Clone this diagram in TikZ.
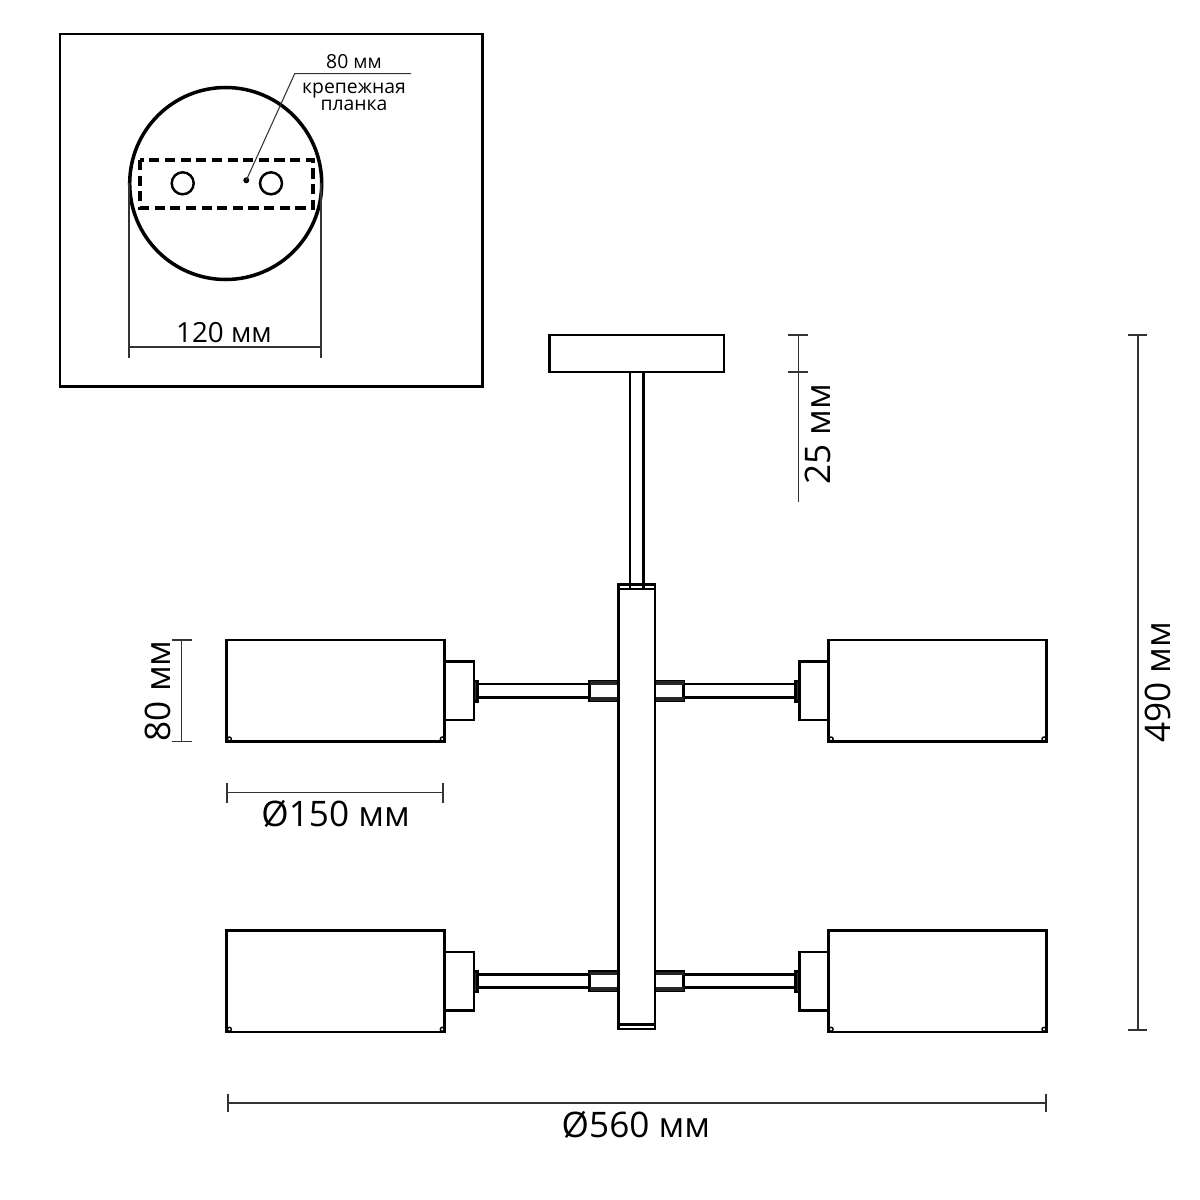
\documentclass[tikz,border=0pt]{standalone}
\usepackage{fontspec}
\setmainfont{Open Sans}
\tikzset{
  part/.style={draw=black,line width=0.7pt,fill=white},
  dimline/.style={draw=black!80,line width=0.3pt},
  bigtext/.style={inner sep=0pt,font=\fontsize{10}{12}\selectfont},
  midtext/.style={inner sep=0pt,font=\fontsize{7.9}{10}\selectfont},
  smalltext/.style={inner sep=0pt,font=\fontsize{5.5}{6}\selectfont},
}
\begin{document}
\begin{tikzpicture}[x=0.01cm,y=-0.01cm]
  \useasboundingbox (0,0) rectangle (1200,1200);
  % Inset
  \draw[line width=0.85pt] (60,34) rectangle (482,386);
  \draw[line width=1pt] (225.7,183.5) circle[radius=96];
  \draw[line width=1.1pt,dash pattern=on 2.9pt off 1.55pt] (140,160) rectangle (313,208);
  \foreach \x in {182.7,271}
    \draw[line width=0.7pt] (\x,183.3) circle[radius=11];
  % Leader
  \fill (246.3,180.3) coordinate (pin) circle[radius=3];
  \coordinate (elbow) at (294.7,73.7);
  \coordinate (shelf) at (411,73.7);
  \draw[dimline] (pin) -- (elbow) -- (shelf);
  \node[smalltext] (holes) at (354,62) {80 мм};
  \node[smalltext] (plate1) at (354,91) {крепежная};
  \node[smalltext] (plate2) at (354,105) {планка};
  % 120
  \draw[dimline] (129,183) -- (129,358);
  \draw[dimline] (321,183) -- (321,358);
  \draw[dimline] (129,347) -- (321,347);
  \node[midtext] (widthlabel) at (224,333) {120 мм};
  % Canopy and stem
  \draw[part] (549.7,335) rectangle (724,372);
  \draw[part] (630,372) rectangle (643.3,589);
  % Arms
  \foreach \yc in {690.5,980.8}
    \foreach \sx in {1,-1} {
      \begin{scope}[shift={(636.7,\yc)},xscale=\sx]
        \draw[part] (-410,-50.5) rectangle (-192,51);
        \draw[line width=0.4pt] (-407.3,48.5) circle[radius=2];
        \draw[line width=0.4pt] (-194.4,48.5) circle[radius=2];
        \draw[part] (-192,-29) rectangle (-162.7,29.5);
        \draw[part,fill=black!80] (-162.7,-9.5) rectangle (-159,11);
        \draw[part] (-159,-6.5) rectangle (-47,6.8);
        \draw[part] (-47,-9.2) rectangle (-18,10.2);
        \fill[black!85] (-47,-9.2) rectangle (-18,-5.5);
        \fill[black!85] (-47,6.2) rectangle (-18,10.2);
      \end{scope}
    }
  % Column
  \draw[part] (618.7,584.7) rectangle (655,1029);
  \draw[line width=0.7pt] (618.7,589) -- (655,589);
  \draw[line width=0.7pt] (618.7,1024.7) -- (655,1024.7);
  \draw[line width=0.7pt] (630,584.7) -- (630,589);
  \draw[line width=0.7pt] (643.3,584.7) -- (643.3,589);
  % 25
  \draw[dimline] (798.3,335) -- (798.3,501.7);
  \foreach \y in {335,372}
    \draw[dimline] (788,\y) -- (808,\y);
  \node[bigtext,rotate=90] (canopylabel) at (818,434) {25 мм};
  % 490
  \draw[dimline] (1138,335) -- (1138,1030);
  \foreach \y in {335,1030}
    \draw[dimline] (1128,\y) -- (1147,\y);
  \node[bigtext,rotate=90] (heightlabel) at (1158,682) {490 мм};
  % 80
  \draw[dimline] (181.7,640) -- (181.7,741.7);
  \foreach \y in {640,741.7}
    \draw[dimline] (171.7,\y) -- (191.7,\y);
  \node[bigtext,rotate=90] (shadelabel) at (158,690.7) {80 мм};
  % 150
  \draw[dimline] (227,792.7) -- (443,792.7);
  \foreach \x in {227,443}
    \draw[dimline] (\x,783) -- (\x,802.7);
  \node[bigtext] (shadedia) at (335.7,814) {Ø150 мм};
  % 560
  \draw[dimline] (228,1103) -- (1046,1103);
  \foreach \x in {228,1046}
    \draw[dimline] (\x,1094) -- (\x,1112);
  \node[bigtext] (spanlabel) at (636,1125) {Ø560 мм};
\end{tikzpicture}
\end{document}
